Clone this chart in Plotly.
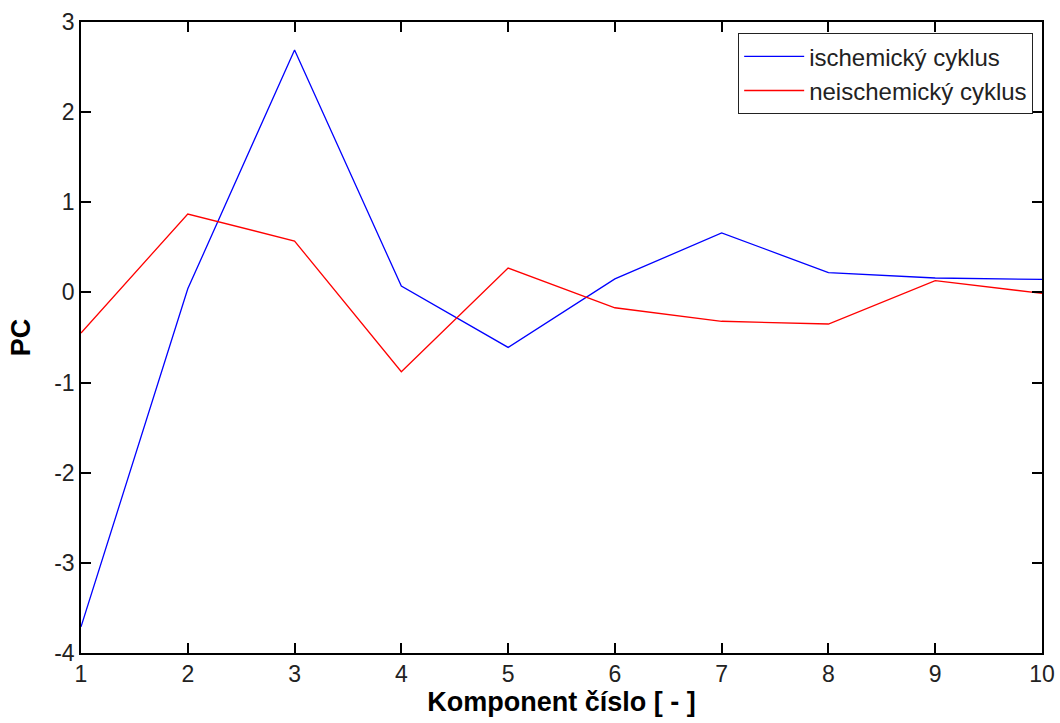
import plotly.graph_objects as go

komponent = [1, 2, 3, 4, 5, 6, 7, 8, 9, 10]
ischemicky = [-3.71, 0.04, 2.69, 0.07, -0.61, 0.15, 0.66, 0.22, 0.16, 0.145]
neischemicky = [-0.45, 0.87, 0.57, -0.88, 0.27, -0.17, -0.32, -0.35, 0.13, -0.01]
y_ticks = [-4, -3, -2, -1, 0, 1, 2, 3]

fig = go.Figure()
fig.add_trace(go.Scatter(x=komponent, y=ischemicky, mode="lines", name="ischemický cyklus",
                         line=dict(color="#0000ff", width=1.3)))
fig.add_trace(go.Scatter(x=komponent, y=neischemicky, mode="lines", name="neischemický cyklus",
                         line=dict(color="#ff0000", width=1.3)))

font = "Liberation Sans, Arial, sans-serif"
axis_common = dict(showline=True, linecolor="black", linewidth=1.5, mirror="ticks",
                   ticks="inside", ticklen=10, tickcolor="black", tickwidth=1.5,
                   showgrid=False, zeroline=False, automargin=False,
                   tickfont=dict(family=font, size=23, color="#222"))
fig.update_layout(
    width=1060, height=723,
    margin=dict(l=81, r=18, t=22, b=70),
    paper_bgcolor="white", plot_bgcolor="white",
    xaxis=dict(range=[1, 10], tickvals=komponent, ticktext=[str(k) for k in komponent],
               title=dict(text="<b>Komponent číslo [ - ]</b>", standoff=4,
                          font=dict(family=font, size=27, color="black")),
               **axis_common),
    yaxis=dict(range=[-4, 3], tickvals=y_ticks, ticktext=[str(v) for v in y_ticks],
               title=dict(text="<b>PC</b>", standoff=16,
                          font=dict(family=font, size=27, color="black")),
               **axis_common),
    legend=dict(x=0.9906, y=0.9826, xanchor="right", yanchor="top",
                bgcolor="white", bordercolor="#222", borderwidth=1.2,
                font=dict(family=font, size=24, color="#222"),
                itemwidth=60, tracegroupgap=0),
    showlegend=True,
)
fig.write_html("out.html")
